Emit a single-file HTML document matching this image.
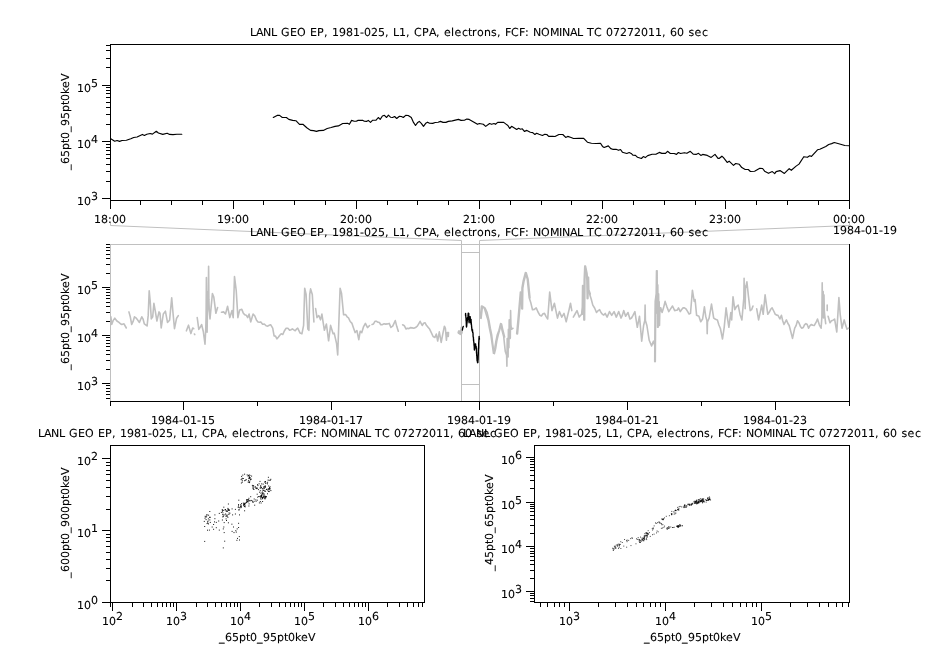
<!DOCTYPE html>
<html><head><meta charset="utf-8"><title>LANL GEO EP</title>
<style>html,body{margin:0;padding:0;background:#fff}svg{display:block}text{stroke:#000;stroke-width:.1px}</style></head>
<body>
<svg width="926" height="647" viewBox="0 0 926 647" font-family='"DejaVu Sans", "Liberation Sans", sans-serif' font-size="11" fill="#000" text-rendering="geometricPrecision">
<rect width="926" height="647" fill="#fff"/>
<polyline points="110.5,222.5 110.5,225.5 461.5,240.5 461.5,401" fill="none" stroke="#c0c0c0" stroke-width="1"/>
<polyline points="849.5,222.5 849.5,225.5 479.5,240.5 479.5,401" fill="none" stroke="#c0c0c0" stroke-width="1"/>
<line x1="110" y1="44.5" x2="850" y2="44.5" stroke="#000" stroke-width="1"/>
<line x1="110" y1="200.5" x2="850" y2="200.5" stroke="#000" stroke-width="1"/>
<line x1="110.5" y1="44" x2="110.5" y2="201" stroke="#000" stroke-width="1"/>
<line x1="849.5" y1="44" x2="849.5" y2="201" stroke="#000" stroke-width="1"/>
<line x1="102" y1="198.5" x2="111" y2="198.5" stroke="#000" stroke-width="1"/>
<text x="77 84" y="205">10<tspan x="91" dy="-5">3</tspan></text>
<line x1="106" y1="181.5" x2="111" y2="181.5" stroke="#000" stroke-width="1"/>
<line x1="106" y1="171.5" x2="111" y2="171.5" stroke="#000" stroke-width="1"/>
<line x1="106" y1="164.5" x2="111" y2="164.5" stroke="#000" stroke-width="1"/>
<line x1="106" y1="158.5" x2="111" y2="158.5" stroke="#000" stroke-width="1"/>
<line x1="106" y1="154.5" x2="111" y2="154.5" stroke="#000" stroke-width="1"/>
<line x1="106" y1="150.5" x2="111" y2="150.5" stroke="#000" stroke-width="1"/>
<line x1="106" y1="147.5" x2="111" y2="147.5" stroke="#000" stroke-width="1"/>
<line x1="106" y1="144.5" x2="111" y2="144.5" stroke="#000" stroke-width="1"/>
<line x1="102" y1="141.5" x2="111" y2="141.5" stroke="#000" stroke-width="1"/>
<text x="77 84" y="148">10<tspan x="91" dy="-5">4</tspan></text>
<line x1="106" y1="124.5" x2="111" y2="124.5" stroke="#000" stroke-width="1"/>
<line x1="106" y1="114.5" x2="111" y2="114.5" stroke="#000" stroke-width="1"/>
<line x1="106" y1="107.5" x2="111" y2="107.5" stroke="#000" stroke-width="1"/>
<line x1="106" y1="102.5" x2="111" y2="102.5" stroke="#000" stroke-width="1"/>
<line x1="106" y1="97.5" x2="111" y2="97.5" stroke="#000" stroke-width="1"/>
<line x1="106" y1="93.5" x2="111" y2="93.5" stroke="#000" stroke-width="1"/>
<line x1="106" y1="90.5" x2="111" y2="90.5" stroke="#000" stroke-width="1"/>
<line x1="106" y1="87.5" x2="111" y2="87.5" stroke="#000" stroke-width="1"/>
<line x1="102" y1="85.5" x2="111" y2="85.5" stroke="#000" stroke-width="1"/>
<text x="77 84" y="92">10<tspan x="91" dy="-5">5</tspan></text>
<line x1="106" y1="67.5" x2="111" y2="67.5" stroke="#000" stroke-width="1"/>
<line x1="106" y1="58.5" x2="111" y2="58.5" stroke="#000" stroke-width="1"/>
<line x1="106" y1="50.5" x2="111" y2="50.5" stroke="#000" stroke-width="1"/>
<line x1="106" y1="45.5" x2="111" y2="45.5" stroke="#000" stroke-width="1"/>
<line x1="110.5" y1="200" x2="110.5" y2="209" stroke="#000" stroke-width="1"/>
<text x="94 101 108 112 119" y="223">18:00</text>
<line x1="140.5" y1="200" x2="140.5" y2="205" stroke="#000" stroke-width="1"/>
<line x1="171.5" y1="200" x2="171.5" y2="205" stroke="#000" stroke-width="1"/>
<line x1="202.5" y1="200" x2="202.5" y2="205" stroke="#000" stroke-width="1"/>
<line x1="233.5" y1="200" x2="233.5" y2="209" stroke="#000" stroke-width="1"/>
<text x="217 224 231 235 242" y="223">19:00</text>
<line x1="263.5" y1="200" x2="263.5" y2="205" stroke="#000" stroke-width="1"/>
<line x1="294.5" y1="200" x2="294.5" y2="205" stroke="#000" stroke-width="1"/>
<line x1="325.5" y1="200" x2="325.5" y2="205" stroke="#000" stroke-width="1"/>
<line x1="356.5" y1="200" x2="356.5" y2="209" stroke="#000" stroke-width="1"/>
<text x="340 347 354 358 365" y="223">20:00</text>
<line x1="387.5" y1="200" x2="387.5" y2="205" stroke="#000" stroke-width="1"/>
<line x1="417.5" y1="200" x2="417.5" y2="205" stroke="#000" stroke-width="1"/>
<line x1="448.5" y1="200" x2="448.5" y2="205" stroke="#000" stroke-width="1"/>
<line x1="479.5" y1="200" x2="479.5" y2="209" stroke="#000" stroke-width="1"/>
<text x="463 470 477 481 488" y="223">21:00</text>
<line x1="510.5" y1="200" x2="510.5" y2="205" stroke="#000" stroke-width="1"/>
<line x1="541.5" y1="200" x2="541.5" y2="205" stroke="#000" stroke-width="1"/>
<line x1="571.5" y1="200" x2="571.5" y2="205" stroke="#000" stroke-width="1"/>
<line x1="602.5" y1="200" x2="602.5" y2="209" stroke="#000" stroke-width="1"/>
<text x="586 593 600 604 611" y="223">22:00</text>
<line x1="633.5" y1="200" x2="633.5" y2="205" stroke="#000" stroke-width="1"/>
<line x1="664.5" y1="200" x2="664.5" y2="205" stroke="#000" stroke-width="1"/>
<line x1="695.5" y1="200" x2="695.5" y2="205" stroke="#000" stroke-width="1"/>
<line x1="725.5" y1="200" x2="725.5" y2="209" stroke="#000" stroke-width="1"/>
<text x="709 716 723 727 734" y="223">23:00</text>
<line x1="756.5" y1="200" x2="756.5" y2="205" stroke="#000" stroke-width="1"/>
<line x1="787.5" y1="200" x2="787.5" y2="205" stroke="#000" stroke-width="1"/>
<line x1="818.5" y1="200" x2="818.5" y2="205" stroke="#000" stroke-width="1"/>
<line x1="849.5" y1="200" x2="849.5" y2="209" stroke="#000" stroke-width="1"/>
<text x="833 840 847 851 858" y="223">00:00</text>
<text x="833 840 847 854 861 865 872 879 883 890" y="234">1984-01-19</text>
<text x="250 256 263 271 277 281 290 297 306 310 317 324 328 332 339 346 353 360 364 371 378 385 389 393 399 406 410 414 422 429 436 440 444 451 454.5 462 468 472 477 484 491 497 501 505 511 519 525 529 533 541 550 559 562 570 577 583 587 594 602 606 613 620 627 634 641 648 655 662 666 670 677 684 688.5 694.6 702" y="36">LANL GEO EP, 1981-025, L1, CPA, electrons, FCF: NOMINAL TC 07272011, 60 sec</text>
<text transform="translate(69,122) rotate(-90)" x="-48 -42 -35 -28 -21 -17 -10 -4 3 10 17 21 28 34 41" y="0">_65pt0_95pt0keV</text>
<line x1="110" y1="244.5" x2="850" y2="244.5" stroke="#c0c0c0" stroke-width="1"/>
<line x1="461" y1="252.5" x2="480" y2="252.5" stroke="#c0c0c0" stroke-width="1"/>
<line x1="461" y1="384.5" x2="480" y2="384.5" stroke="#c0c0c0" stroke-width="1"/>
<line x1="106" y1="398.5" x2="111" y2="398.5" stroke="#000" stroke-width="1"/>
<line x1="106" y1="394.5" x2="111" y2="394.5" stroke="#000" stroke-width="1"/>
<line x1="106" y1="391.5" x2="111" y2="391.5" stroke="#000" stroke-width="1"/>
<line x1="106" y1="388.5" x2="111" y2="388.5" stroke="#000" stroke-width="1"/>
<line x1="106" y1="385.5" x2="111" y2="385.5" stroke="#000" stroke-width="1"/>
<line x1="102" y1="383.5" x2="111" y2="383.5" stroke="#000" stroke-width="1"/>
<text x="77 84" y="390">10<tspan x="91" dy="-5">3</tspan></text>
<line x1="106" y1="369.5" x2="111" y2="369.5" stroke="#000" stroke-width="1"/>
<line x1="106" y1="360.5" x2="111" y2="360.5" stroke="#000" stroke-width="1"/>
<line x1="106" y1="354.5" x2="111" y2="354.5" stroke="#000" stroke-width="1"/>
<line x1="106" y1="350.5" x2="111" y2="350.5" stroke="#000" stroke-width="1"/>
<line x1="106" y1="346.5" x2="111" y2="346.5" stroke="#000" stroke-width="1"/>
<line x1="106" y1="343.5" x2="111" y2="343.5" stroke="#000" stroke-width="1"/>
<line x1="106" y1="340.5" x2="111" y2="340.5" stroke="#000" stroke-width="1"/>
<line x1="106" y1="337.5" x2="111" y2="337.5" stroke="#000" stroke-width="1"/>
<line x1="102" y1="335.5" x2="111" y2="335.5" stroke="#000" stroke-width="1"/>
<text x="77 84" y="342">10<tspan x="91" dy="-5">4</tspan></text>
<line x1="106" y1="321.5" x2="111" y2="321.5" stroke="#000" stroke-width="1"/>
<line x1="106" y1="312.5" x2="111" y2="312.5" stroke="#000" stroke-width="1"/>
<line x1="106" y1="306.5" x2="111" y2="306.5" stroke="#000" stroke-width="1"/>
<line x1="106" y1="302.5" x2="111" y2="302.5" stroke="#000" stroke-width="1"/>
<line x1="106" y1="298.5" x2="111" y2="298.5" stroke="#000" stroke-width="1"/>
<line x1="106" y1="295.5" x2="111" y2="295.5" stroke="#000" stroke-width="1"/>
<line x1="106" y1="292.5" x2="111" y2="292.5" stroke="#000" stroke-width="1"/>
<line x1="106" y1="289.5" x2="111" y2="289.5" stroke="#000" stroke-width="1"/>
<line x1="102" y1="287.5" x2="111" y2="287.5" stroke="#000" stroke-width="1"/>
<text x="77 84" y="294">10<tspan x="91" dy="-5">5</tspan></text>
<line x1="106" y1="273.5" x2="111" y2="273.5" stroke="#000" stroke-width="1"/>
<line x1="106" y1="264.5" x2="111" y2="264.5" stroke="#000" stroke-width="1"/>
<line x1="106" y1="258.5" x2="111" y2="258.5" stroke="#000" stroke-width="1"/>
<line x1="106" y1="254.5" x2="111" y2="254.5" stroke="#000" stroke-width="1"/>
<line x1="106" y1="250.5" x2="111" y2="250.5" stroke="#000" stroke-width="1"/>
<line x1="106" y1="247.5" x2="111" y2="247.5" stroke="#000" stroke-width="1"/>
<line x1="106" y1="244.5" x2="111" y2="244.5" stroke="#000" stroke-width="1"/>
<line x1="110.5" y1="244" x2="110.5" y2="402" stroke="#c0c0c0" stroke-width="1"/>
<line x1="849.5" y1="244" x2="849.5" y2="402" stroke="#000" stroke-width="1"/>
<line x1="110" y1="401.5" x2="850" y2="401.5" stroke="#000" stroke-width="1"/>
<line x1="110.5" y1="401" x2="110.5" y2="406" stroke="#000" stroke-width="1"/>
<line x1="183.5" y1="401" x2="183.5" y2="410" stroke="#000" stroke-width="1"/>
<text x="151 158 165 172 179 183 190 197 201 208" y="424">1984-01-15</text>
<line x1="257.5" y1="401" x2="257.5" y2="406" stroke="#000" stroke-width="1"/>
<line x1="331.5" y1="401" x2="331.5" y2="410" stroke="#000" stroke-width="1"/>
<text x="299 306 313 320 327 331 338 345 349 356" y="424">1984-01-17</text>
<line x1="405.5" y1="401" x2="405.5" y2="406" stroke="#000" stroke-width="1"/>
<line x1="479.5" y1="401" x2="479.5" y2="410" stroke="#000" stroke-width="1"/>
<text x="447 454 461 468 475 479 486 493 497 504" y="424">1984-01-19</text>
<line x1="553.5" y1="401" x2="553.5" y2="406" stroke="#000" stroke-width="1"/>
<line x1="627.5" y1="401" x2="627.5" y2="410" stroke="#000" stroke-width="1"/>
<text x="595 602 609 616 623 627 634 641 645 652" y="424">1984-01-21</text>
<line x1="701.5" y1="401" x2="701.5" y2="406" stroke="#000" stroke-width="1"/>
<line x1="775.5" y1="401" x2="775.5" y2="410" stroke="#000" stroke-width="1"/>
<text x="743 750 757 764 771 775 782 789 793 800" y="424">1984-01-23</text>
<line x1="849.5" y1="401" x2="849.5" y2="406" stroke="#000" stroke-width="1"/>
<text x="250 256 263 271 277 281 290 297 306 310 317 324 328 332 339 346 353 360 364 371 378 385 389 393 399 406 410 414 422 429 436 440 444 451 454.5 462 468 472 477 484 491 497 501 505 511 519 525 529 533 541 550 559 562 570 577 583 587 594 602 606 613 620 627 634 641 648 655 662 666 670 677 684 688.5 694.6 702" y="236">LANL GEO EP, 1981-025, L1, CPA, electrons, FCF: NOMINAL TC 07272011, 60 sec</text>
<text transform="translate(69,322) rotate(-90)" x="-48 -42 -35 -28 -21 -17 -10 -4 3 10 17 21 28 34 41" y="0">_65pt0_95pt0keV</text>
<line x1="110" y1="445.5" x2="425" y2="445.5" stroke="#000" stroke-width="1"/>
<line x1="110" y1="602.5" x2="425" y2="602.5" stroke="#000" stroke-width="1"/>
<line x1="110.5" y1="445" x2="110.5" y2="603" stroke="#000" stroke-width="1"/>
<line x1="424.5" y1="445" x2="424.5" y2="603" stroke="#000" stroke-width="1"/>
<line x1="102" y1="602.5" x2="111" y2="602.5" stroke="#000" stroke-width="1"/>
<text x="77 84" y="609">10<tspan x="91" dy="-5">0</tspan></text>
<line x1="106" y1="580.5" x2="111" y2="580.5" stroke="#000" stroke-width="1"/>
<line x1="106" y1="568.5" x2="111" y2="568.5" stroke="#000" stroke-width="1"/>
<line x1="106" y1="559.5" x2="111" y2="559.5" stroke="#000" stroke-width="1"/>
<line x1="106" y1="552.5" x2="111" y2="552.5" stroke="#000" stroke-width="1"/>
<line x1="106" y1="546.5" x2="111" y2="546.5" stroke="#000" stroke-width="1"/>
<line x1="106" y1="541.5" x2="111" y2="541.5" stroke="#000" stroke-width="1"/>
<line x1="106" y1="537.5" x2="111" y2="537.5" stroke="#000" stroke-width="1"/>
<line x1="106" y1="534.5" x2="111" y2="534.5" stroke="#000" stroke-width="1"/>
<line x1="102" y1="530.5" x2="111" y2="530.5" stroke="#000" stroke-width="1"/>
<text x="77 84" y="537">10<tspan x="91" dy="-5">1</tspan></text>
<line x1="106" y1="509.5" x2="111" y2="509.5" stroke="#000" stroke-width="1"/>
<line x1="106" y1="496.5" x2="111" y2="496.5" stroke="#000" stroke-width="1"/>
<line x1="106" y1="487.5" x2="111" y2="487.5" stroke="#000" stroke-width="1"/>
<line x1="106" y1="480.5" x2="111" y2="480.5" stroke="#000" stroke-width="1"/>
<line x1="106" y1="474.5" x2="111" y2="474.5" stroke="#000" stroke-width="1"/>
<line x1="106" y1="470.5" x2="111" y2="470.5" stroke="#000" stroke-width="1"/>
<line x1="106" y1="465.5" x2="111" y2="465.5" stroke="#000" stroke-width="1"/>
<line x1="106" y1="462.5" x2="111" y2="462.5" stroke="#000" stroke-width="1"/>
<line x1="102" y1="458.5" x2="111" y2="458.5" stroke="#000" stroke-width="1"/>
<text x="77 84" y="465">10<tspan x="91" dy="-5">2</tspan></text>
<line x1="110.5" y1="602" x2="110.5" y2="607" stroke="#000" stroke-width="1"/>
<line x1="112.5" y1="602" x2="112.5" y2="611" stroke="#000" stroke-width="1"/>
<text x="102 109" y="625">10<tspan x="116" dy="-5">2</tspan></text>
<line x1="132.5" y1="602" x2="132.5" y2="607" stroke="#000" stroke-width="1"/>
<line x1="143.5" y1="602" x2="143.5" y2="607" stroke="#000" stroke-width="1"/>
<line x1="151.5" y1="602" x2="151.5" y2="607" stroke="#000" stroke-width="1"/>
<line x1="157.5" y1="602" x2="157.5" y2="607" stroke="#000" stroke-width="1"/>
<line x1="162.5" y1="602" x2="162.5" y2="607" stroke="#000" stroke-width="1"/>
<line x1="166.5" y1="602" x2="166.5" y2="607" stroke="#000" stroke-width="1"/>
<line x1="170.5" y1="602" x2="170.5" y2="607" stroke="#000" stroke-width="1"/>
<line x1="173.5" y1="602" x2="173.5" y2="607" stroke="#000" stroke-width="1"/>
<line x1="176.5" y1="602" x2="176.5" y2="611" stroke="#000" stroke-width="1"/>
<text x="166 173" y="625">10<tspan x="180" dy="-5">3</tspan></text>
<line x1="196.5" y1="602" x2="196.5" y2="607" stroke="#000" stroke-width="1"/>
<line x1="207.5" y1="602" x2="207.5" y2="607" stroke="#000" stroke-width="1"/>
<line x1="215.5" y1="602" x2="215.5" y2="607" stroke="#000" stroke-width="1"/>
<line x1="221.5" y1="602" x2="221.5" y2="607" stroke="#000" stroke-width="1"/>
<line x1="226.5" y1="602" x2="226.5" y2="607" stroke="#000" stroke-width="1"/>
<line x1="230.5" y1="602" x2="230.5" y2="607" stroke="#000" stroke-width="1"/>
<line x1="234.5" y1="602" x2="234.5" y2="607" stroke="#000" stroke-width="1"/>
<line x1="237.5" y1="602" x2="237.5" y2="607" stroke="#000" stroke-width="1"/>
<line x1="240.5" y1="602" x2="240.5" y2="611" stroke="#000" stroke-width="1"/>
<text x="230 237" y="625">10<tspan x="244" dy="-5">4</tspan></text>
<line x1="259.5" y1="602" x2="259.5" y2="607" stroke="#000" stroke-width="1"/>
<line x1="271.5" y1="602" x2="271.5" y2="607" stroke="#000" stroke-width="1"/>
<line x1="279.5" y1="602" x2="279.5" y2="607" stroke="#000" stroke-width="1"/>
<line x1="285.5" y1="602" x2="285.5" y2="607" stroke="#000" stroke-width="1"/>
<line x1="290.5" y1="602" x2="290.5" y2="607" stroke="#000" stroke-width="1"/>
<line x1="294.5" y1="602" x2="294.5" y2="607" stroke="#000" stroke-width="1"/>
<line x1="298.5" y1="602" x2="298.5" y2="607" stroke="#000" stroke-width="1"/>
<line x1="301.5" y1="602" x2="301.5" y2="607" stroke="#000" stroke-width="1"/>
<line x1="304.5" y1="602" x2="304.5" y2="611" stroke="#000" stroke-width="1"/>
<text x="294 301" y="625">10<tspan x="308" dy="-5">5</tspan></text>
<line x1="323.5" y1="602" x2="323.5" y2="607" stroke="#000" stroke-width="1"/>
<line x1="335.5" y1="602" x2="335.5" y2="607" stroke="#000" stroke-width="1"/>
<line x1="343.5" y1="602" x2="343.5" y2="607" stroke="#000" stroke-width="1"/>
<line x1="349.5" y1="602" x2="349.5" y2="607" stroke="#000" stroke-width="1"/>
<line x1="354.5" y1="602" x2="354.5" y2="607" stroke="#000" stroke-width="1"/>
<line x1="358.5" y1="602" x2="358.5" y2="607" stroke="#000" stroke-width="1"/>
<line x1="362.5" y1="602" x2="362.5" y2="607" stroke="#000" stroke-width="1"/>
<line x1="365.5" y1="602" x2="365.5" y2="607" stroke="#000" stroke-width="1"/>
<line x1="368.5" y1="602" x2="368.5" y2="611" stroke="#000" stroke-width="1"/>
<text x="358 365" y="625">10<tspan x="372" dy="-5">6</tspan></text>
<line x1="387.5" y1="602" x2="387.5" y2="607" stroke="#000" stroke-width="1"/>
<line x1="399.5" y1="602" x2="399.5" y2="607" stroke="#000" stroke-width="1"/>
<line x1="407.5" y1="602" x2="407.5" y2="607" stroke="#000" stroke-width="1"/>
<line x1="413.5" y1="602" x2="413.5" y2="607" stroke="#000" stroke-width="1"/>
<line x1="418.5" y1="602" x2="418.5" y2="607" stroke="#000" stroke-width="1"/>
<line x1="422.5" y1="602" x2="422.5" y2="607" stroke="#000" stroke-width="1"/>
<text x="38 44 51 59 65 69 78 85 94 98 105 112 116 120 127 134 141 148 152 159 166 173 177 181 187 194 198 202 210 217 224 228 232 239 242.5 250 256 260 265 272 279 285 289 293 299 307 313 317 321 329 338 347 350 358 365 371 375 382 390 394 401 408 415 422 429 436 443 450 454 458 465 472 476.5 482.6 490" y="437">LANL GEO EP, 1981-025, L1, CPA, electrons, FCF: NOMINAL TC 07272011, 60 sec</text>
<text x="219 225 232 239 246 250 257 263 270 277 284 288 295 301 308" y="641">_65pt0_95pt0keV</text>
<text transform="translate(69,523) rotate(-90)" x="-55 -49 -42 -35 -28 -21 -17 -10 -4 3 10 17 24 28 35 41 48" y="0">_600pt0_900pt0keV</text>
<line x1="534" y1="445.5" x2="850" y2="445.5" stroke="#000" stroke-width="1"/>
<line x1="534" y1="602.5" x2="850" y2="602.5" stroke="#000" stroke-width="1"/>
<line x1="534.5" y1="445" x2="534.5" y2="603" stroke="#000" stroke-width="1"/>
<line x1="849.5" y1="445" x2="849.5" y2="603" stroke="#000" stroke-width="1"/>
<line x1="530" y1="601.5" x2="535" y2="601.5" stroke="#000" stroke-width="1"/>
<line x1="530" y1="598.5" x2="535" y2="598.5" stroke="#000" stroke-width="1"/>
<line x1="530" y1="595.5" x2="535" y2="595.5" stroke="#000" stroke-width="1"/>
<line x1="530" y1="593.5" x2="535" y2="593.5" stroke="#000" stroke-width="1"/>
<line x1="526" y1="591.5" x2="535" y2="591.5" stroke="#000" stroke-width="1"/>
<text x="501 508" y="598">10<tspan x="515" dy="-5">3</tspan></text>
<line x1="530" y1="578.5" x2="535" y2="578.5" stroke="#000" stroke-width="1"/>
<line x1="530" y1="570.5" x2="535" y2="570.5" stroke="#000" stroke-width="1"/>
<line x1="530" y1="564.5" x2="535" y2="564.5" stroke="#000" stroke-width="1"/>
<line x1="530" y1="560.5" x2="535" y2="560.5" stroke="#000" stroke-width="1"/>
<line x1="530" y1="556.5" x2="535" y2="556.5" stroke="#000" stroke-width="1"/>
<line x1="530" y1="553.5" x2="535" y2="553.5" stroke="#000" stroke-width="1"/>
<line x1="530" y1="551.5" x2="535" y2="551.5" stroke="#000" stroke-width="1"/>
<line x1="530" y1="548.5" x2="535" y2="548.5" stroke="#000" stroke-width="1"/>
<line x1="526" y1="546.5" x2="535" y2="546.5" stroke="#000" stroke-width="1"/>
<text x="501 508" y="553">10<tspan x="515" dy="-5">4</tspan></text>
<line x1="530" y1="533.5" x2="535" y2="533.5" stroke="#000" stroke-width="1"/>
<line x1="530" y1="525.5" x2="535" y2="525.5" stroke="#000" stroke-width="1"/>
<line x1="530" y1="519.5" x2="535" y2="519.5" stroke="#000" stroke-width="1"/>
<line x1="530" y1="515.5" x2="535" y2="515.5" stroke="#000" stroke-width="1"/>
<line x1="530" y1="511.5" x2="535" y2="511.5" stroke="#000" stroke-width="1"/>
<line x1="530" y1="508.5" x2="535" y2="508.5" stroke="#000" stroke-width="1"/>
<line x1="530" y1="506.5" x2="535" y2="506.5" stroke="#000" stroke-width="1"/>
<line x1="530" y1="504.5" x2="535" y2="504.5" stroke="#000" stroke-width="1"/>
<line x1="526" y1="502.5" x2="535" y2="502.5" stroke="#000" stroke-width="1"/>
<text x="501 508" y="509">10<tspan x="515" dy="-5">5</tspan></text>
<line x1="530" y1="488.5" x2="535" y2="488.5" stroke="#000" stroke-width="1"/>
<line x1="530" y1="480.5" x2="535" y2="480.5" stroke="#000" stroke-width="1"/>
<line x1="530" y1="475.5" x2="535" y2="475.5" stroke="#000" stroke-width="1"/>
<line x1="530" y1="470.5" x2="535" y2="470.5" stroke="#000" stroke-width="1"/>
<line x1="530" y1="467.5" x2="535" y2="467.5" stroke="#000" stroke-width="1"/>
<line x1="530" y1="464.5" x2="535" y2="464.5" stroke="#000" stroke-width="1"/>
<line x1="530" y1="461.5" x2="535" y2="461.5" stroke="#000" stroke-width="1"/>
<line x1="530" y1="459.5" x2="535" y2="459.5" stroke="#000" stroke-width="1"/>
<line x1="526" y1="457.5" x2="535" y2="457.5" stroke="#000" stroke-width="1"/>
<text x="501 508" y="464">10<tspan x="515" dy="-5">6</tspan></text>
<line x1="540.5" y1="602" x2="540.5" y2="607" stroke="#000" stroke-width="1"/>
<line x1="547.5" y1="602" x2="547.5" y2="607" stroke="#000" stroke-width="1"/>
<line x1="554.5" y1="602" x2="554.5" y2="607" stroke="#000" stroke-width="1"/>
<line x1="559.5" y1="602" x2="559.5" y2="607" stroke="#000" stroke-width="1"/>
<line x1="564.5" y1="602" x2="564.5" y2="607" stroke="#000" stroke-width="1"/>
<line x1="569.5" y1="602" x2="569.5" y2="611" stroke="#000" stroke-width="1"/>
<text x="559 566" y="625">10<tspan x="573" dy="-5">3</tspan></text>
<line x1="598.5" y1="602" x2="598.5" y2="607" stroke="#000" stroke-width="1"/>
<line x1="615.5" y1="602" x2="615.5" y2="607" stroke="#000" stroke-width="1"/>
<line x1="627.5" y1="602" x2="627.5" y2="607" stroke="#000" stroke-width="1"/>
<line x1="636.5" y1="602" x2="636.5" y2="607" stroke="#000" stroke-width="1"/>
<line x1="643.5" y1="602" x2="643.5" y2="607" stroke="#000" stroke-width="1"/>
<line x1="650.5" y1="602" x2="650.5" y2="607" stroke="#000" stroke-width="1"/>
<line x1="655.5" y1="602" x2="655.5" y2="607" stroke="#000" stroke-width="1"/>
<line x1="660.5" y1="602" x2="660.5" y2="607" stroke="#000" stroke-width="1"/>
<line x1="665.5" y1="602" x2="665.5" y2="611" stroke="#000" stroke-width="1"/>
<text x="655 662" y="625">10<tspan x="669" dy="-5">4</tspan></text>
<line x1="694.5" y1="602" x2="694.5" y2="607" stroke="#000" stroke-width="1"/>
<line x1="711.5" y1="602" x2="711.5" y2="607" stroke="#000" stroke-width="1"/>
<line x1="723.5" y1="602" x2="723.5" y2="607" stroke="#000" stroke-width="1"/>
<line x1="732.5" y1="602" x2="732.5" y2="607" stroke="#000" stroke-width="1"/>
<line x1="740.5" y1="602" x2="740.5" y2="607" stroke="#000" stroke-width="1"/>
<line x1="746.5" y1="602" x2="746.5" y2="607" stroke="#000" stroke-width="1"/>
<line x1="752.5" y1="602" x2="752.5" y2="607" stroke="#000" stroke-width="1"/>
<line x1="756.5" y1="602" x2="756.5" y2="607" stroke="#000" stroke-width="1"/>
<line x1="761.5" y1="602" x2="761.5" y2="611" stroke="#000" stroke-width="1"/>
<text x="751 758" y="625">10<tspan x="765" dy="-5">5</tspan></text>
<line x1="790.5" y1="602" x2="790.5" y2="607" stroke="#000" stroke-width="1"/>
<line x1="807.5" y1="602" x2="807.5" y2="607" stroke="#000" stroke-width="1"/>
<line x1="819.5" y1="602" x2="819.5" y2="607" stroke="#000" stroke-width="1"/>
<line x1="828.5" y1="602" x2="828.5" y2="607" stroke="#000" stroke-width="1"/>
<line x1="836.5" y1="602" x2="836.5" y2="607" stroke="#000" stroke-width="1"/>
<line x1="842.5" y1="602" x2="842.5" y2="607" stroke="#000" stroke-width="1"/>
<line x1="848.5" y1="602" x2="848.5" y2="607" stroke="#000" stroke-width="1"/>
<text x="463 469 476 484 490 494 503 510 519 523 530 537 541 545 552 559 566 573 577 584 591 598 602 606 612 619 623 627 635 642 649 653 657 664 667.5 675 681 685 690 697 704 710 714 718 724 732 738 742 746 754 763 772 775 783 790 796 800 807 815 819 826 833 840 847 854 861 868 875 879 883 890 897 901.5 907.6 915" y="437">LANL GEO EP, 1981-025, L1, CPA, electrons, FCF: NOMINAL TC 07272011, 60 sec</text>
<text x="644 650 657 664 671 675 682 688 695 702 709 713 720 726 733" y="641">_65pt0_95pt0keV</text>
<text transform="translate(493,523) rotate(-90)" x="-48 -42 -35 -28 -21 -17 -10 -4 3 10 17 21 28 34 41" y="0">_45pt0_65pt0keV</text>
<polyline points="110.8,138.8 114.7,141.2 117.1,140.5 119.6,141.4 122.0,140.5 126.4,140.3 130.8,138.8 133.7,137.5 137.1,137.0 142.4,134.4 144.4,135.4 146.8,134.2 150.2,133.5 152.4,134.1 156.3,131.3 158.4,133.0 162.8,134.4 167.2,133.3 169.6,134.4 173.0,134.6 176.9,134.2 181.8,134.2" fill="none" stroke="#000" stroke-width="1.15" stroke-linejoin="round" stroke-linecap="round"/>
<polyline points="273.3,117.5 277.1,115.4 279.6,115.4 282.3,117.5 286.4,117.5 288.8,119.4 292.7,120.4 295.9,120.7 299.5,124.3 302.9,124.3 306.8,127.7 310.5,130.4 313.6,130.6 316.5,131.4 318.9,130.6 323.3,130.4 327.2,128.5 331.1,127.5 335.0,126.4 338.4,125.9 342.7,123.5 347.6,123.3 349.4,124.3 351.6,120.4 354.2,121.2 356.2,121.2 358.1,120.4 362.5,120.2 364.4,121.2 366.4,121.4 368.3,120.4 370.5,122.4 372.7,120.2 376.1,120.2 378.3,117.5 380.2,119.4 382.4,116.0 384.4,115.3 386.6,117.5 388.4,115.1 390.7,117.3 392.6,117.5 394.6,116.5 396.7,118.5 399.4,116.3 401.4,116.5 403.3,117.5 405.7,115.3 408.2,115.5 411.3,117.5 413.5,122.4 415.5,125.5 417.4,122.8 419.3,121.4 421.3,123.3 423.5,126.4 425.7,123.3 427.6,122.2 429.5,123.3 432.7,123.4 435.2,122.5 438.1,122.2 440.5,121.4 443.0,122.4 445.9,122.4 448.3,121.4 452.2,120.9 458.5,119.4 461.0,120.4 464.4,120.2 466.8,119.1 469.2,119.4 473.6,121.9 477.5,124.3 479.4,123.5 483.3,124.3 485.7,126.4 489.6,123.5 491.6,124.3 494.0,123.5 495.5,124.3 497.7,122.4 503.7,122.4 506.0,124.1 507.9,125.5 509.7,128.5 511.6,126.3 516.7,129.4 518.6,128.3 520.5,129.2 522.3,128.8 524.4,131.4 526.9,130.4 530.3,132.2 532.7,132.6 534.9,134.5 536.6,133.3 539.0,134.3 542.4,135.5 544.8,134.3 546.8,134.5 548.7,136.4 552.6,136.2 555.0,136.5 558.9,134.5 562.8,134.5 565.7,137.4 567.7,136.4 571.1,137.5 573.5,138.5 578.9,138.4 583.7,138.4 587.4,142.2 591.4,143.3 596.2,143.5 600.5,143.3 602.5,146.4 604.2,147.5 608.3,145.9 610.8,148.6 612.7,149.3 616.1,149.3 618.5,150.3 620.5,149.5 622.4,152.2 626.8,153.5 629.2,152.5 631.2,153.4 633.1,155.3 635.5,155.4 637.5,157.3 641.4,158.5 643.3,156.6 645.3,157.6 647.7,155.6 652.1,154.2 655.9,154.3 659.3,152.4 661.8,153.4 665.5,153.4 667.5,151.3 670.3,153.5 674.2,153.5 676.5,154.4 678.4,152.5 680.5,153.5 684.4,152.7 686.9,153.3 690.3,151.3 693.2,154.2 696.1,154.4 698.5,153.3 700.8,155.4 702.7,154.4 707.3,155.4 711.2,157.4 715.0,154.4 718.0,158.3 719.4,158.3 721.9,156.2 723.3,157.4 727.2,162.4 729.1,161.2 733.5,165.4 735.7,163.5 739.3,164.3 741.8,167.6 745.2,169.5 748.3,169.5 750.4,171.5 754.6,171.2 759.8,168.3 762.6,168.5 764.6,171.2 768.5,173.3 772.3,171.6 774.7,173.6 776.1,171.6 780.0,170.6 784.4,173.4 789.2,168.6 791.3,170.3 796.1,166.1 799.0,164.1 803.8,156.7 807.4,157.3 809.7,155.8 811.5,156.4 817.5,149.8 819.8,149.3 825.8,146.5 828.7,144.5 831.7,143.6 834.3,142.5 838.8,143.7 844.8,145.5 849.3,145.7" fill="none" stroke="#000" stroke-width="1.15" stroke-linejoin="round" stroke-linecap="round"/>
<polyline points="110.9,316.8 111.7,324.5 113.2,320.4 114.8,318.2 116.9,321.0 119.0,322.4 120.4,323.8 121.8,324.5 124.0,323.8 126.3,328.0" fill="none" stroke="#c0c0c0" stroke-width="1.6" stroke-linejoin="round" stroke-linecap="round"/>
<polyline points="128.9,311.9 130.3,316.8 131.7,324.5 133.1,321.4 134.5,316.8 135.9,317.8 137.3,319.6 139.4,322.4 141.8,316.8 143.1,319.2 144.3,323.8 145.7,324.8 147.1,325.9 148.2,315.4 149.2,290.8 150.2,301.3 151.3,318.9 152.7,316.8 153.9,303.4 155.3,311.2 156.9,321.0 159.0,311.9 160.0,313.3 161.2,328.0 163.3,314.0 165.4,311.2 167.5,322.4 169.6,320.3 171.7,297.8 173.1,314.0 174.5,328.7 176.6,318.2 178.3,315.6" fill="none" stroke="#c0c0c0" stroke-width="1.6" stroke-linejoin="round" stroke-linecap="round"/>
<polyline points="186.4,330.8 188.5,325.2 190.9,333.6 192.7,328.0 193.7,328.7" fill="none" stroke="#c0c0c0" stroke-width="1.6" stroke-linejoin="round" stroke-linecap="round"/>
<polyline points="194.4,334.0 194.8,334.6" fill="none" stroke="#c0c0c0" stroke-width="1.6" stroke-linejoin="round" stroke-linecap="round"/>
<polyline points="197.2,317.5 198.8,329.4 200.2,327.3 201.6,324.5 203.3,331.5 205.0,344.1 205.8,328.0 206.1,315.4 206.4,277.5 206.7,318.5 206.8,291.2 207.1,332.2 207.4,312.2 207.9,305.5 208.3,295.7 208.6,266.2 208.9,299.9 209.3,311.2 210.0,318.9 212.4,293.6 213.8,297.1 215.9,313.3 217.6,307.6" fill="none" stroke="#c0c0c0" stroke-width="1.6" stroke-linejoin="round" stroke-linecap="round"/>
<polyline points="221.5,312.3 223.6,311.9 225.5,314.0 227.6,306.3 229.8,317.6 232.0,310.6 233.2,317.6 234.5,276.6 236.2,290.3 237.9,317.6 239.7,309.9 241.8,309.2 243.2,312.9 244.7,314.8 246.2,315.2 247.7,317.6 249.1,314.1 250.7,321.9 253.1,314.1 254.7,315.7 256.4,319.9 258.0,321.9 259.4,322.3 260.8,321.9 262.6,324.2 264.3,324.0 266.1,325.8 267.8,326.1 269.2,325.3 270.6,324.7 272.7,328.2 274.1,335.9 275.5,336.1 276.9,338.9 278.3,337.3 279.8,335.3 281.2,333.8 282.8,334.5 284.5,330.7 286.1,328.2 287.9,328.3 289.6,330.3 291.0,329.7 292.4,328.9 293.8,329.9 295.2,330.7 296.4,329.2 297.7,328.2 300.1,333.1 301.9,333.8 303.6,325.4 304.7,288.2 306.1,294.5 307.8,328.9 308.9,330.3 309.7,294.5 310.6,288.9 312.3,294.5 313.9,321.9" fill="none" stroke="#c0c0c0" stroke-width="1.6" stroke-linejoin="round" stroke-linecap="round"/>
<polyline points="315.6,308.5 317.0,317.6 318.8,315.5 320.5,319.8 321.9,314.1 323.1,322.2 324.4,330.3 326.4,324.0 328.6,340.8 330.6,325.4 331.9,329.8 333.1,333.8 334.2,333.1 336.6,343.6 337.7,354.9 338.7,326.8 340.1,288.2 341.5,293.1 343.6,314.8 345.7,314.6 347.1,316.8 348.5,317.8 350.2,321.5 352.0,323.4 353.6,328.2 355.1,332.6 356.9,330.5 358.8,339.6 360.2,331.2 361.8,332.6 363.6,326.6 365.4,323.4 367.5,327.6 369.6,325.5" fill="none" stroke="#c0c0c0" stroke-width="1.6" stroke-linejoin="round" stroke-linecap="round"/>
<polyline points="372.0,324.4 373.5,323.9 375.1,321.2 376.6,321.3 378.0,322.3 379.4,322.5 380.8,324.8 382.4,324.6 384.1,323.7 385.7,324.1 387.4,323.9 389.2,323.4 390.9,327.4 392.7,326.2 394.0,323.4 395.3,320.6 396.8,326.6 398.3,331.2" fill="none" stroke="#c0c0c0" stroke-width="1.6" stroke-linejoin="round" stroke-linecap="round"/>
<polyline points="402.6,324.8 404.4,325.8 406.1,329.0 407.5,328.3 408.9,328.6 410.3,327.6 412.1,327.9 413.8,328.3 415.6,327.5 417.3,326.2 418.7,323.8 420.1,321.3 422.2,325.5 423.6,323.3 425.0,322.7 426.4,325.3 427.8,326.9 429.6,329.1 431.3,332.6 433.1,336.5 434.9,337.5 436.3,334.0 437.7,341.0 439.3,331.9 441.2,342.4 442.8,333.9 444.4,326.2 445.4,328.3 446.4,340.3 447.2,332.6 448.5,332.6 448.3,336.5" fill="none" stroke="#c0c0c0" stroke-width="1.6" stroke-linejoin="round" stroke-linecap="round"/>
<polyline points="458.2,332.4 458.9,330.8 459.6,333.6 460.3,331.2 460.9,334.3 461.3,327.2 461.9,332.8 462.2,329.2" fill="none" stroke="#c0c0c0" stroke-width="1.6" stroke-linejoin="round" stroke-linecap="round"/>
<polyline points="458.5,333.3 459.4,331.6 460.2,334.4 461.0,330.2 461.6,333.6" fill="none" stroke="#c0c0c0" stroke-width="1.6" stroke-linejoin="round" stroke-linecap="round"/>
<polyline points="480.2,318.1 481.5,306.0 482.9,307.5 484.3,307.9 486.1,313.9 488.0,319.9 489.4,328.1 490.8,334.7 492.1,343.5 493.5,353.3 494.8,347.9 496.0,340.8 497.3,334.7 499.0,330.2 500.6,323.6 502.1,330.6 503.7,336.6 505.3,351.6 506.6,355.2 506.9,366.3 507.2,338.5 508.1,357.0 508.4,329.2 508.7,343.1 508.6,333.8 508.9,347.7 509.2,319.9 510.3,338.4 510.6,310.6 510.9,324.6 511.4,329.2 513.0,328.3" fill="none" stroke="#c0c0c0" stroke-width="1.6" stroke-linejoin="round" stroke-linecap="round"/>
<polyline points="516.7,333.8 518.0,319.9 520.4,292.1 521.4,296.3 521.7,308.8 522.0,287.9 523.2,281.0 525.4,272.6 527.3,279.1 529.2,297.7 530.9,303.1 532.5,309.7 534.4,309.4 536.2,307.9 538.0,312.0 539.9,315.3 541.4,316.0 543.0,313.7 544.5,313.4 546.1,316.6 547.7,319.0 549.7,292.1 552.0,310.6 554.4,303.2 556.0,311.1 557.5,318.1 559.4,311.6 561.8,317.1 564.0,313.4 566.2,321.8 567.6,315.8 569.1,309.6 570.5,303.2 571.8,310.6" fill="none" stroke="#c0c0c0" stroke-width="1.6" stroke-linejoin="round" stroke-linecap="round"/>
<polyline points="573.3,317.1 575.1,314.0 577.0,310.6 579.2,317.1 581.6,314.3 582.3,307.1 582.6,285.6 582.9,311.3 583.6,294.2 583.9,319.9 584.2,279.6 584.8,266.1 586.3,273.5 586.9,279.8 587.2,298.6 587.5,282.6 587.5,293.3 587.8,277.3 588.1,289.8 589.6,293.9 591.2,299.0 592.8,305.1 594.6,308.0 596.5,312.5 598.0,310.8 599.6,309.7 601.0,312.5 602.4,314.3 603.8,315.1 605.2,313.4 607.1,317.1 609.5,311.6 611.7,315.3 614.1,311.6 616.3,317.1 618.7,311.6 621.0,318.1 622.4,315.1 623.7,310.6 625.6,316.2 628.0,312.5 629.9,319.0 631.5,318.0 633.0,315.3 634.9,311.6 637.3,327.3 639.5,316.2 641.7,341.2 643.6,325.5 644.8,320.4 645.1,305.1 645.4,320.4 646.9,325.5 649.2,340.3 651.6,345.9 653.4,341.2 655.0,346.3 655.3,361.6 655.6,316.4 655.8,301.4 656.8,293.8 657.1,270.8 657.4,313.2 657.8,284.9 658.1,327.3 658.4,302.2 658.3,318.9 658.6,293.9 658.9,317.6 659.2,301.8 659.5,325.5 659.8,312.3 660.8,307.9 662.1,312.5 663.6,307.6 665.1,301.4 667.0,307.1 668.8,311.6 670.6,308.9 672.5,306.0 674.7,310.6 676.0,310.3 677.2,310.2 678.5,307.9 680.3,311.6 681.7,309.5 683.1,307.9 684.5,307.8 685.9,308.8 687.7,311.6 689.1,314.1 690.5,313.4 692.4,290.2 694.2,301.4 695.1,299.5 696.6,315.3 698.9,316.2 700.7,321.8 702.6,319.0 704.4,306.9 705.7,316.2 706.9,320.6 707.2,333.8 707.5,322.0 709.1,318.1 711.5,304.1 713.7,318.1 715.5,319.2 717.4,319.9 718.9,325.0 720.4,328.5 722.5,339.0 724.2,327.3 726.1,307.9 727.5,318.3 728.9,327.3 730.8,312.5 731.7,319.9 733.0,296.7 734.8,309.7 736.5,306.5 738.2,305.1 740.0,314.4 741.9,319.9 743.2,305.1 743.8,298.4 744.1,278.2 744.4,301.1 744.9,285.9 745.2,308.8 745.5,288.6 746.9,281.9 748.4,295.8 750.2,310.6 751.6,309.7 753.0,306.0" fill="none" stroke="#c0c0c0" stroke-width="1.6" stroke-linejoin="round" stroke-linecap="round"/>
<polyline points="756.7,308.8 758.6,319.9 760.2,312.6 761.7,305.1 763.2,314.3 765.1,294.9 766.5,305.2 767.8,314.3 769.2,312.3 770.7,309.3 772.1,307.9 773.7,311.0 775.3,314.3 776.6,315.1 778.0,315.3 779.9,319.0 781.4,315.3 782.7,320.8 784.0,324.5 786.4,319.9 787.8,323.3 789.2,325.5 790.9,332.0 792.5,338.4 794.7,328.2 796.1,325.6 797.5,320.8 798.9,322.7 800.4,326.4 801.8,328.2 803.2,327.6 804.5,324.9 805.9,323.6 807.2,324.5 808.6,328.2 810.0,325.6 811.4,324.5 812.8,325.2 814.2,325.5 815.9,322.7 817.5,319.0 819.3,324.8 821.1,328.2 821.9,316.9 822.2,282.8 822.5,309.2 823.2,291.6 823.5,318.0 823.8,300.7 823.7,312.2 824.0,294.9 824.3,310.9 824.8,316.2 825.7,323.6" fill="none" stroke="#c0c0c0" stroke-width="1.6" stroke-linejoin="round" stroke-linecap="round"/>
<polyline points="827.2,305.0 827.2,310.6" fill="none" stroke="#c0c0c0" stroke-width="1.6" stroke-linejoin="round" stroke-linecap="round"/>
<polyline points="828.1,316.2 830.0,322.7 831.5,320.7 833.1,320.2 834.6,319.0 836.8,332.0 838.9,297.6 840.2,314.3 842.0,328.2 844.2,319.9 845.6,325.1 847.0,329.2 848.5,328.2" fill="none" stroke="#c0c0c0" stroke-width="1.6" stroke-linejoin="round" stroke-linecap="round"/>
<polyline points="481.1,318.4 482.4,306.3 483.8,307.1 485.2,308.2 487.0,312.3 488.9,320.2 490.3,328.2 491.7,335.0 493.0,346.1 494.4,353.6 495.7,348.2 496.9,340.5 498.2,335.0 499.9,329.1 501.5,323.9 503.0,330.6 504.6,336.9" fill="none" stroke="#c0c0c0" stroke-width="1.6" stroke-linejoin="round" stroke-linecap="round"/>
<polyline points="517.5,334.0 518.8,320.1 521.2,292.3 522.2,296.5 522.5,309.0 522.8,288.1 524.0,281.2 526.2,272.8 528.1,279.3 530.0,297.9" fill="none" stroke="#c0c0c0" stroke-width="1.6" stroke-linejoin="round" stroke-linecap="round"/>
<polyline points="582.3,314.3 583.0,307.1 583.3,285.6 583.6,311.3 584.3,294.2 584.6,319.9 584.9,279.6 585.5,266.1 587.0,273.5 587.6,279.8 587.9,298.6 588.2,282.6 588.2,293.3 588.5,277.3 588.8,289.8 590.3,293.9" fill="none" stroke="#c0c0c0" stroke-width="1.6" stroke-linejoin="round" stroke-linecap="round"/>
<polyline points="654.7,361.6 655.2,301.4 656.2,293.8 656.5,270.8 656.8,313.2 657.2,284.9 657.5,327.3 657.8,302.2 657.7,318.9 658.0,293.9 658.3,317.6 658.6,301.8 658.9,325.5 659.2,312.3 660.2,307.9" fill="none" stroke="#c0c0c0" stroke-width="1.6" stroke-linejoin="round" stroke-linecap="round"/>
<polyline points="462.4,330.0 462.8,327.6 463.3,326.4" fill="none" stroke="#000" stroke-width="1.35" stroke-linejoin="round" stroke-linecap="round"/>
<polyline points="465.5,315.2 465.6,313.4 465.6,313.4 465.7,315.2 465.8,315.2 465.8,316.8 465.9,317.7 466.0,317.9 466.1,321.0 466.2,321.0 466.3,323.9 466.4,326.1 466.4,326.3 466.5,327.0 466.6,326.3 466.7,326.1 466.8,324.5 466.9,323.7 467.0,322.8 467.1,322.3 467.2,320.3 467.3,320.1 467.3,321.0 467.4,317.7 467.4,318.3 467.5,318.3 467.5,317.7 467.6,317.5 467.7,318.3 467.7,318.5 467.8,317.7 467.8,319.4 467.9,317.5 468.0,317.5 468.0,315.2 468.1,316.8 468.1,313.9 468.2,313.3 468.2,315.2 468.3,313.2 468.3,315.0 468.4,315.2 468.4,314.4 468.5,316.1 468.5,314.2 468.6,314.4 468.6,315.2 468.7,313.3 468.8,313.5 468.8,315.2 468.9,319.4 468.9,322.0 469.0,319.7 469.0,318.5 469.1,320.1 469.1,322.8 469.2,320.1 469.2,319.2 469.3,320.1 469.3,320.2 469.4,319.5 469.5,319.2 469.5,318.5 469.6,319.4 469.7,319.4 469.7,318.5 469.8,318.1 470.0,316.8 470.0,317.7 470.1,317.5 470.2,316.6 470.2,316.8 470.3,318.9 470.4,321.0 470.5,320.3 470.6,321.0 470.6,322.8 470.7,320.3 470.8,321.0 470.8,320.3 470.9,321.0 470.9,319.4 471.1,319.4 471.1,320.8 471.2,322.0 471.2,324.5 471.3,322.7 471.4,325.3 471.4,324.4 471.5,325.1 471.5,324.8 471.6,327.0 471.6,326.1 471.7,327.7 471.8,328.0 471.8,329.6 471.9,328.6 471.9,329.5 472.0,330.5 472.1,329.5 472.1,329.6 472.2,331.2 472.3,331.1 472.3,331.3 472.4,329.6 472.5,329.6 472.6,332.1 472.6,331.2 472.7,332.2 472.8,333.0 472.9,332.9 473.0,332.9 473.1,336.2 473.2,337.1 473.3,337.3 473.4,337.1 473.5,339.7 473.5,340.6 473.6,339.3 473.7,341.6 473.7,342.2 473.8,342.2 473.9,343.0 473.9,342.3 474.0,344.6 474.1,345.7 474.1,344.9 474.2,345.7 474.2,347.3 474.3,347.3 474.3,349.0 474.4,350.0 474.5,348.4 474.5,349.2 474.6,347.5 474.7,346.3 474.8,346.4 474.9,344.8 474.9,345.7 475.0,345.7 475.1,343.9 475.1,345.7 475.2,345.7 475.3,346.5 475.3,344.9 475.4,345.7 475.5,345.1 475.5,345.6 475.6,343.9 475.7,346.3 475.8,346.5 475.8,345.6 475.9,347.3 475.9,346.5 476.0,347.3 476.1,349.0 476.2,346.5 476.3,349.8 476.3,349.8 476.4,348.0 476.4,349.0 476.5,353.3 476.6,352.3 476.7,355.8 476.7,354.2 476.8,354.9 476.9,357.7 477.0,359.3 477.0,359.3 477.1,361.0 477.2,360.7 477.3,358.3 477.4,358.5 477.4,360.7 477.5,362.5 477.6,361.1 477.7,362.8 477.7,361.1 477.8,360.2 477.9,362.6 478.0,358.5 478.1,360.0 478.2,356.4 478.3,354.7 478.4,348.4 478.5,349.0 478.5,347.7 478.6,348.2 478.7,342.6 478.8,342.2 478.9,339.8 479.0,338.1 479.1,337.3 479.1,336.4 479.2,337.4 479.4,339.0 479.5,339.1" fill="none" stroke="#000" stroke-width="1.35" stroke-linejoin="round" stroke-linecap="round"/>
<path d="M242.3 475.1h1M240.7 479.6h1M241.7 478.3h1M241.1 476.4h1M240.9 483.0h1M241.6 478.9h1M241.8 482.2h1M241.8 480.7h1M242.8 478.5h1M244.1 474.2h1M244.1 480.7h1M245.2 480.3h1M245.7 479.6h1M246.7 474.9h1M247.7 482.1h1M247.5 476.0h1M248.0 475.6h1M249.0 482.6h1M250.0 479.1h1M248.9 477.3h1M250.0 479.8h1M251.1 476.1h1M250.8 479.2h1M249.5 475.4h1M249.0 477.2h1M248.8 478.2h1M249.7 477.7h1M249.2 481.8h1M248.2 480.5h1M248.5 478.7h1M248.3 482.1h1M248.7 478.3h1M248.7 474.9h1M248.8 476.9h1M267.9 477.3h1M269.9 480.2h1M270.3 479.3h1M268.7 480.3h1M267.1 482.3h1M267.6 480.1h1M267.0 483.8h1M265.2 483.0h1M265.3 483.3h1M265.0 481.5h1M264.1 482.0h1M262.7 484.1h1M259.5 481.4h1M260.2 485.8h1M260.2 486.2h1M257.4 485.6h1M255.5 487.6h1M253.4 489.5h1M251.9 485.4h1M252.6 488.4h1M252.8 489.0h1M252.3 487.0h1M252.6 485.9h1M253.1 485.7h1M253.4 487.2h1M254.8 486.7h1M255.4 488.2h1M256.0 488.6h1M257.1 484.6h1M257.0 488.2h1M257.9 489.6h1M258.6 483.8h1M259.6 488.0h1M260.6 487.7h1M261.2 483.9h1M260.9 487.4h1M260.4 488.1h1M262.4 488.9h1M263.3 487.3h1M263.6 486.5h1M263.6 490.4h1M264.8 487.2h1M264.7 486.8h1M264.3 491.3h1M263.1 490.4h1M263.6 488.2h1M263.8 488.1h1M262.7 493.2h1M264.7 486.7h1M264.7 485.8h1M266.2 489.4h1M265.9 489.4h1M267.2 490.0h1M269.6 486.8h1M269.0 487.6h1M269.0 488.7h1M269.4 489.8h1M267.8 488.7h1M268.4 491.5h1M268.2 486.0h1M267.0 493.8h1M269.0 488.9h1M268.6 491.6h1M268.1 489.3h1M270.4 490.6h1M269.6 488.4h1M267.8 491.2h1M265.1 491.2h1M260.4 493.2h1M259.8 490.7h1M262.3 493.0h1M262.2 493.6h1M259.6 496.4h1M259.1 492.2h1M262.2 488.7h1M261.6 492.8h1M260.6 495.7h1M261.0 495.8h1M261.9 491.0h1M261.6 497.8h1M262.7 497.2h1M263.1 496.6h1M262.0 498.7h1M261.9 497.9h1M262.4 497.8h1M263.9 496.2h1M263.6 497.5h1M263.8 494.1h1M264.9 497.1h1M265.3 497.7h1M265.4 496.7h1M264.2 496.1h1M264.5 498.9h1M265.0 496.4h1M265.9 496.6h1M264.8 498.0h1M263.9 498.2h1M262.7 495.2h1M260.9 496.8h1M260.5 499.2h1M260.8 496.1h1M260.9 495.8h1M259.5 496.7h1M258.2 496.5h1M258.9 502.9h1M260.7 497.1h1M260.0 498.0h1M260.6 503.0h1M261.1 494.8h1M262.4 494.7h1M262.1 497.3h1M262.1 501.5h1M260.8 495.7h1M259.8 501.5h1M257.2 497.2h1M256.8 500.2h1M256.7 494.2h1M255.6 501.3h1M253.6 501.3h1M255.3 499.9h1M254.2 505.2h1M253.7 499.0h1M252.1 501.7h1M252.6 502.4h1M251.4 500.6h1M250.6 500.4h1M250.2 496.7h1M248.6 500.9h1M249.6 500.8h1M248.4 498.3h1M247.7 501.9h1M247.3 500.2h1M248.6 503.9h1M247.2 501.4h1M246.2 502.2h1M246.2 499.6h1M246.1 500.8h1M246.9 499.7h1M248.1 499.6h1M248.5 500.5h1M248.4 506.0h1M246.8 501.6h1M244.9 503.8h1M246.1 502.3h1M245.3 502.9h1M244.6 505.8h1M244.0 506.4h1M243.9 504.0h1M243.9 504.2h1M243.4 504.6h1M244.0 504.4h1M242.8 503.1h1M240.4 506.5h1M238.4 510.0h1M238.0 505.1h1M239.1 507.8h1M238.3 500.2h1M238.1 507.0h1M237.7 507.2h1M209.3 511.5h1M206.6 514.9h1M206.1 516.8h1M209.8 517.3h1M205.6 519.6h1M209.3 519.9h1M203.8 521.4h1M207.0 521.9h1M209.8 522.4h1M206.6 523.6h1M204.2 526.5h1M207.0 530.2h1M208.9 530.1h1M204.2 541.4h1M214.4 514.9h1M214.4 518.7h1M214.0 521.9h1M215.8 522.4h1M213.1 524.5h1M211.7 527.0h1M215.8 527.7h1M213.1 529.3h1M218.8 530.1h1M218.2 521.0h1M218.8 513.4h1M223.3 507.2h1M227.9 504.0h1M221.9 510.3h1M224.6 509.7h1M226.5 510.8h1M228.8 509.8h1M220.9 512.4h1M222.3 514.5h1M225.1 514.0h1M226.5 514.9h1M228.4 514.5h1M227.4 517.3h1M225.6 518.9h1M221.9 520.0h1M226.0 520.5h1M223.7 522.6h1M227.9 522.8h1M223.3 527.0h1M222.8 528.9h1M223.7 532.6h1M224.2 541.2h1M222.8 547.9h1M231.6 508.9h1M234.9 509.4h1M238.6 509.7h1M238.1 504.7h1M240.9 507.1h1M243.7 506.1h1M244.1 503.3h1M244.1 510.8h1M232.1 514.9h1M234.9 514.0h1M239.0 514.9h1M231.4 524.2h1M238.1 523.3h1M233.0 527.0h1M238.1 527.5h1M236.7 528.9h1M231.6 531.4h1M235.3 530.7h1M235.8 532.1h1M233.5 532.6h1M238.8 536.6h1M237.0 538.4h1M239.0 540.0h1M236.4 540.3h1M222.0 511.2h1M227.5 509.4h1M228.7 510.5h1M228.0 509.3h1M225.5 516.3h1M223.2 510.4h1M225.5 510.9h1M221.8 509.6h1M222.8 516.4h1M226.9 516.1h1M222.8 515.1h1M222.4 512.8h1M226.6 511.2h1M228.5 513.0h1M226.1 515.9h1M222.3 516.9h1M226.5 511.5h1M227.9 510.4h1M229.4 513.2h1M224.4 514.9h1M225.0 509.6h1M227.4 508.4h1M209.0 517.3h1M208.0 523.9h1M207.7 521.0h1M206.2 515.0h1M204.7 516.3h1M207.9 518.9h1M207.3 523.1h1M205.2 517.0h1M208.1 515.2h1M204.5 518.2h1M240.1 504.8h1M240.8 505.9h1M243.0 504.0h1M243.2 505.4h1M240.3 507.7h1M241.0 503.7h1M240.1 506.2h1M244.7 506.9h1" stroke="#000" stroke-width="1" fill="none" opacity="0.9"/>
<path d="M668.8 527.8h0.95M666.3 528.2h0.95M667.2 527.6h0.95M666.7 529.1h0.95M666.8 529.0h0.95M667.7 528.4h0.95M668.2 527.0h0.95M668.4 528.4h0.95M668.5 526.7h0.95M670.3 527.0h0.95M672.1 527.5h0.95M672.6 527.5h0.95M673.7 527.3h0.95M676.1 526.3h0.95M677.5 526.8h0.95M676.7 526.0h0.95M677.0 526.2h0.95M678.5 526.6h0.95M678.7 525.7h0.95M679.4 525.8h0.95M680.0 525.4h0.95M681.6 525.8h0.95M681.8 525.7h0.95M679.3 524.6h0.95M678.0 526.1h0.95M678.3 526.6h0.95M679.6 525.0h0.95M679.6 526.5h0.95M678.0 527.3h0.95M677.0 526.4h0.95M677.4 526.7h0.95M677.4 525.9h0.95M677.9 525.6h0.95M677.2 527.1h0.95M708.0 497.9h0.95M710.1 500.0h0.95M708.9 496.9h0.95M708.1 499.4h0.95M707.0 498.5h0.95M706.6 500.5h0.95M705.9 500.0h0.95M703.5 501.8h0.95M702.6 501.1h0.95M702.2 499.4h0.95M701.5 501.8h0.95M698.4 499.8h0.95M694.3 503.2h0.95M695.5 502.3h0.95M695.0 501.5h0.95M691.1 504.2h0.95M688.6 504.9h0.95M686.3 505.6h0.95M684.3 505.4h0.95M684.3 507.0h0.95M683.8 505.7h0.95M683.5 507.6h0.95M684.3 504.8h0.95M684.4 505.8h0.95M684.7 507.0h0.95M686.3 506.2h0.95M688.6 503.9h0.95M689.6 505.3h0.95M690.2 504.3h0.95M691.4 503.9h0.95M691.9 503.3h0.95M692.3 503.8h0.95M694.5 503.4h0.95M696.3 504.0h0.95M696.3 501.7h0.95M697.1 502.1h0.95M695.9 502.0h0.95M697.6 503.2h0.95M701.2 499.9h0.95M700.4 501.5h0.95M701.0 500.6h0.95M701.4 501.0h0.95M702.0 502.9h0.95M701.5 500.3h0.95M700.1 501.0h0.95M700.3 498.6h0.95M699.7 502.0h0.95M699.9 501.3h0.95M702.7 501.5h0.95M701.8 499.2h0.95M704.9 499.7h0.95M703.3 501.0h0.95M705.9 500.5h0.95M709.0 499.3h0.95M708.9 499.3h0.95M709.0 498.8h0.95M708.6 499.8h0.95M707.5 499.4h0.95M707.4 500.2h0.95M705.7 502.1h0.95M706.4 500.4h0.95M708.8 499.2h0.95M708.0 499.4h0.95M707.0 497.9h0.95M709.7 499.2h0.95M709.2 497.8h0.95M708.1 500.4h0.95M702.5 501.8h0.95M695.5 502.2h0.95M695.8 503.1h0.95M699.6 500.7h0.95M698.0 502.6h0.95M694.5 501.1h0.95M693.7 502.7h0.95M697.8 502.2h0.95M697.0 503.2h0.95M697.4 503.1h0.95M696.5 503.4h0.95M698.3 501.1h0.95M698.4 501.7h0.95M698.9 502.7h0.95M699.4 499.3h0.95M698.6 500.0h0.95M697.9 501.9h0.95M699.5 501.4h0.95M700.8 501.3h0.95M701.1 501.0h0.95M702.0 502.2h0.95M702.5 500.1h0.95M702.3 498.8h0.95M703.2 498.8h0.95M701.7 499.7h0.95M701.9 500.6h0.95M703.0 499.9h0.95M703.7 501.9h0.95M703.3 501.0h0.95M700.2 500.8h0.95M699.4 501.0h0.95M696.4 500.6h0.95M695.7 503.3h0.95M696.6 502.2h0.95M694.8 502.5h0.95M693.5 501.4h0.95M691.7 504.2h0.95M694.2 501.8h0.95M695.9 500.9h0.95M695.6 501.3h0.95M696.2 500.1h0.95M695.4 501.6h0.95M698.1 502.3h0.95M697.8 499.7h0.95M698.0 501.9h0.95M697.4 502.7h0.95M694.6 503.2h0.95M690.9 505.1h0.95M689.0 504.5h0.95M691.0 504.8h0.95M688.0 504.4h0.95M685.7 507.0h0.95M689.1 505.2h0.95M687.2 504.3h0.95M685.6 507.3h0.95M683.9 506.9h0.95M684.3 505.2h0.95M682.9 506.9h0.95M681.2 506.9h0.95M679.7 506.4h0.95M678.4 508.4h0.95M678.7 506.7h0.95M678.3 510.2h0.95M675.2 510.5h0.95M677.3 509.4h0.95M678.1 509.3h0.95M676.3 510.6h0.95M675.1 510.2h0.95M674.4 512.1h0.95M675.4 513.1h0.95M674.8 510.4h0.95M677.0 509.4h0.95M677.2 507.4h0.95M678.2 509.7h0.95M674.7 510.5h0.95M673.7 514.1h0.95M674.6 513.8h0.95M673.2 511.9h0.95M671.3 511.4h0.95M671.2 514.2h0.95M670.9 513.6h0.95M671.2 514.6h0.95M671.2 514.7h0.95M671.5 513.8h0.95M668.9 515.7h0.95M665.8 516.3h0.95M664.0 517.9h0.95M663.1 518.7h0.95M662.0 519.0h0.95M663.0 519.6h0.95M662.4 519.7h0.95M662.2 519.5h0.95M661.2 519.0h0.95M657.1 522.7h0.95M655.0 522.9h0.95M658.4 522.0h0.95M655.8 523.4h0.95M653.7 525.9h0.95M652.7 527.9h0.95M652.9 528.8h0.95M651.8 528.6h0.95M652.1 530.0h0.95M648.9 532.6h0.95M647.4 533.6h0.95M646.5 534.7h0.95M646.6 535.9h0.95M647.9 534.0h0.95M644.3 539.4h0.95M643.6 539.6h0.95M641.8 539.0h0.95M638.7 541.1h0.95M637.7 537.6h0.95M638.8 540.1h0.95M639.4 540.8h0.95M640.1 540.9h0.95M642.2 539.8h0.95M643.7 538.7h0.95M643.9 536.0h0.95M643.4 537.8h0.95M643.7 536.2h0.95M646.9 533.3h0.95M646.4 535.6h0.95M644.9 535.3h0.95M645.9 538.6h0.95M647.5 534.5h0.95M646.4 533.1h0.95M645.9 537.1h0.95M645.4 532.9h0.95M644.0 537.6h0.95M644.3 533.7h0.95M645.8 533.4h0.95M645.8 535.6h0.95M646.7 535.7h0.95M647.0 537.0h0.95M645.9 532.8h0.95M647.7 530.7h0.95M647.2 533.4h0.95M643.4 538.5h0.95M644.0 536.1h0.95M644.9 536.0h0.95M643.6 537.9h0.95M643.2 540.6h0.95M643.2 538.6h0.95M641.4 539.2h0.95M641.7 537.9h0.95M640.0 537.1h0.95M639.1 539.7h0.95M642.4 539.1h0.95M641.9 540.2h0.95M636.9 539.4h0.95M638.4 539.4h0.95M640.5 540.2h0.95M636.0 538.8h0.95M631.8 538.4h0.95M631.5 537.7h0.95M630.2 538.6h0.95M626.7 540.1h0.95M626.6 541.7h0.95M628.2 540.4h0.95M626.2 540.6h0.95M624.1 539.5h0.95M621.8 542.5h0.95M619.3 544.2h0.95M618.7 545.2h0.95M617.2 545.6h0.95M614.4 547.1h0.95M614.7 547.9h0.95M616.9 546.2h0.95M617.8 544.1h0.95M619.7 544.5h0.95M620.3 541.7h0.95M618.8 544.8h0.95M615.6 545.3h0.95M612.8 550.1h0.95M612.3 548.2h0.95M613.7 549.0h0.95M612.7 548.6h0.95M613.9 546.2h0.95M615.4 548.1h0.95M616.7 544.5h0.95M614.7 546.5h0.95M612.9 550.2h0.95M615.3 548.0h0.95M618.0 548.4h0.95M618.7 547.3h0.95M618.9 545.9h0.95M620.4 548.5h0.95M623.3 546.1h0.95M626.2 547.2h0.95M630.5 545.6h0.95M635.5 543.8h0.95M639.1 542.2h0.95M639.4 542.4h0.95M640.0 542.4h0.95M641.2 541.2h0.95M643.3 540.8h0.95M646.2 539.6h0.95M649.8 536.4h0.95M652.0 534.7h0.95M653.6 534.2h0.95M656.0 532.9h0.95M656.6 531.0h0.95M657.7 531.8h0.95M660.9 528.3h0.95M662.1 528.0h0.95M663.4 527.3h0.95M664.1 526.1h0.95M662.4 524.7h0.95M661.3 524.7h0.95M661.1 523.6h0.95M660.1 523.1h0.95M659.1 523.0h0.95M658.8 522.2h0.95" stroke="#000" stroke-width="0.95" fill="none" opacity="0.78"/>
</svg>
</body></html>
